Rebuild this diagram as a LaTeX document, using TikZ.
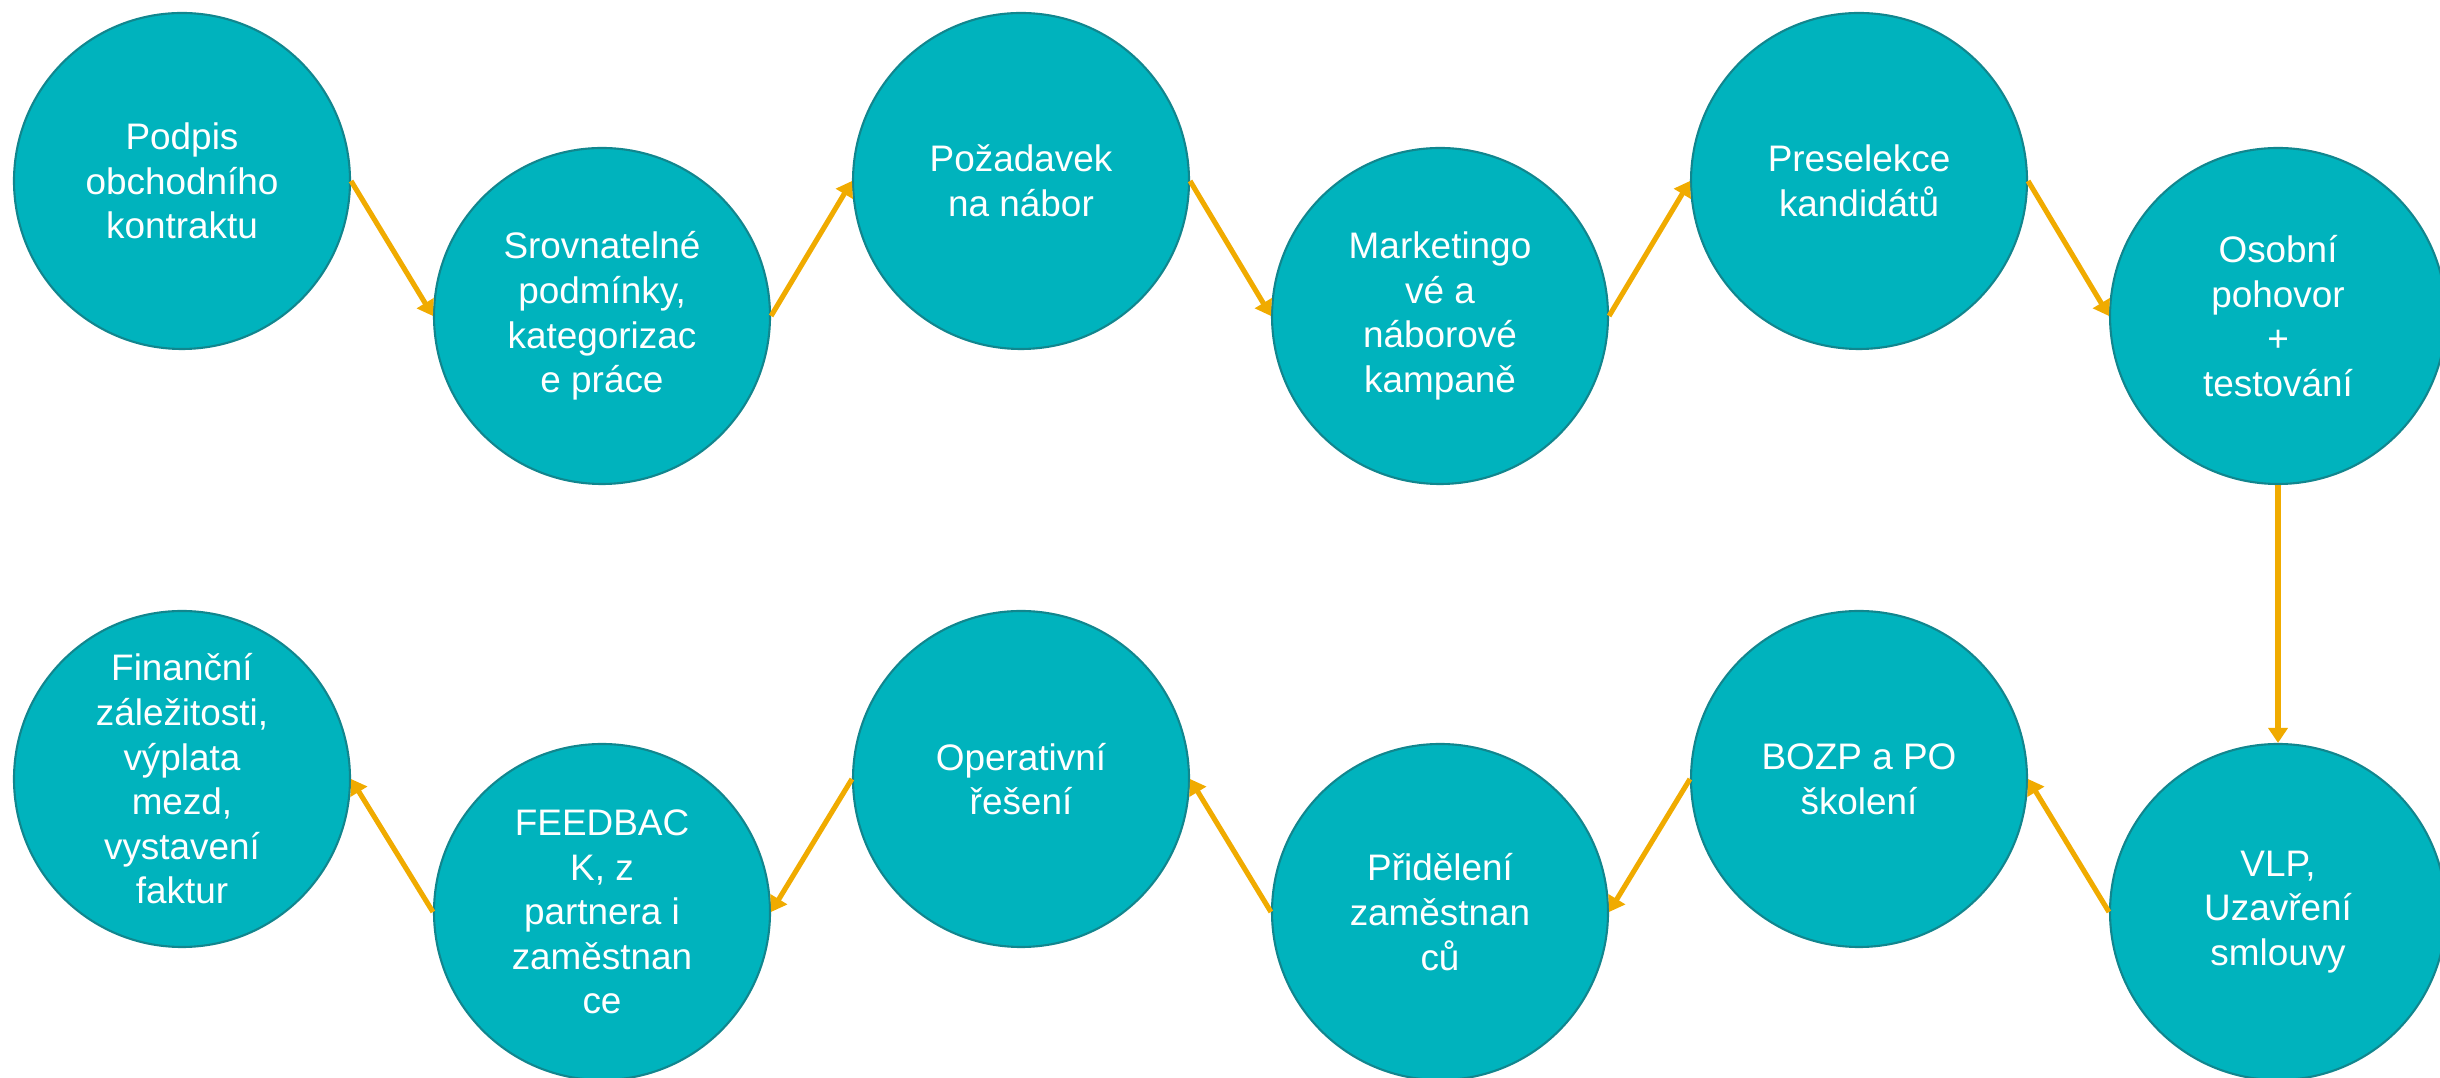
\documentclass[tikz,border=0pt]{standalone}
\usepackage{fontspec}
\setmainfont{Liberation Sans}
\usetikzlibrary{arrows.meta}
\definecolor{stepfill}{RGB}{0,179,189}
\definecolor{stepline}{RGB}{17,134,142}
\definecolor{flow}{RGB}{240,171,0}
\begin{document}
\begin{tikzpicture}[
    phase/.style={circle, fill=stepfill, draw=stepline, line width=0.6pt,
        minimum size=3.36cm, inner sep=0pt, text=white, align=center,
        font=\fontsize{10.5}{12.7}\selectfont},
    flowarrow/.style={draw=flow, line width=1.45pt,
        -{Triangle[width=0.19cm,length=0.15cm]}}]
    \useasboundingbox (0,0) rectangle (24.4,-10.78);
    % top row
    \node[phase] (podpis) at (1.82,-1.81) {Podpis\\obchodního\\kontraktu};
    \node[phase] (srovnani) at (6.02,-3.16) {Srovnatelné\\podmínky,\\kategorizac\\e práce};
    \node[phase] (pozadavek) at (10.21,-1.81) {Požadavek\\na nábor};
    \node[phase] (kampane) at (14.40,-3.16) {Marketingo\\vé a\\náborové\\kampaně};
    \node[phase] (preselekce) at (18.59,-1.81) {Preselekce\\kandidátů};
    \node[phase] (pohovor) at (22.78,-3.16) {Osobní\\pohovor\\+\\testování};
    % bottom row
    \node[phase] (smlouva) at (22.78,-9.12) {VLP,\\Uzavření\\smlouvy};
    \node[phase] (skoleni) at (18.59,-7.79) {BOZP a PO\\školení};
    \node[phase] (prideleni) at (14.40,-9.12) {Přidělení\\zaměstnan\\ců};
    \node[phase] (operativa) at (10.21,-7.79) {Operativní\\řešení};
    \node[phase] (feedback) at (6.02,-9.12) {FEEDBAC\\K, z\\partnera i\\zaměstnan\\ce};
    \node[phase] (finance) at (1.82,-7.79) {Finanční\\záležitosti,\\výplata\\mezd,\\vystavení\\faktur};
    % connectors
    \draw[flowarrow] (podpis.east) -- (srovnani.west);
    \draw[flowarrow] (srovnani.east) -- (pozadavek.west);
    \draw[flowarrow] (pozadavek.east) -- (kampane.west);
    \draw[flowarrow] (kampane.east) -- (preselekce.west);
    \draw[flowarrow] (preselekce.east) -- (pohovor.west);
    \draw[flowarrow] (pohovor.south) -- (smlouva.north);
    \draw[flowarrow] (smlouva.west) -- (skoleni.east);
    \draw[flowarrow] (skoleni.west) -- (prideleni.east);
    \draw[flowarrow] (prideleni.west) -- (operativa.east);
    \draw[flowarrow] (operativa.west) -- (feedback.east);
    \draw[flowarrow] (feedback.west) -- (finance.east);
\end{tikzpicture}
\end{document}
